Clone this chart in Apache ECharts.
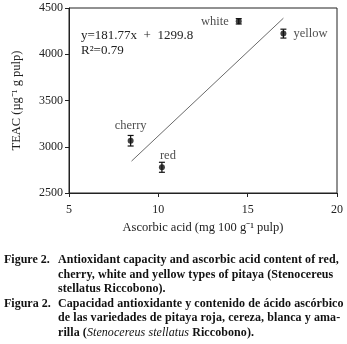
<!DOCTYPE html>
<html>
<head>
<meta charset="utf-8">
<script src="https://cdn.jsdelivr.net/npm/echarts@6/dist/echarts.min.js"></script>
<style>
  html, body { margin: 0; padding: 0; background: #fff; }
  #wrap { position: relative; width: 347px; height: 344px; overflow: hidden; }
  #chart { position: absolute; left: 0; top: 0; width: 347px; height: 344px; }
  .cap { position: absolute; left: 4px; font-family: "Liberation Serif", serif; font-weight: bold;
         font-size: 12px; line-height: 14.6px; color: #111; }
  .cap .lab { position: absolute; left: 0; white-space: nowrap; }
  .cap .txt { position: absolute; left: 54px; white-space: nowrap; letter-spacing: 0.08px; }
</style>
</head>
<body>
<div id="wrap">
  <div id="chart"></div>
  <div class="cap" style="top:252px">
    <div class="lab" style="top:0">Figure 2.</div>
    <div class="txt" style="top:0">Antioxidant capacity and ascorbic acid content of red,</div>
    <div class="txt" style="top:14.6px">cherry, white and yellow types of pitaya (Stenocereus</div>
    <div class="txt" style="top:29.2px">stellatus Riccobono).</div>
    <div class="lab" style="top:43.8px">Figura 2.</div>
    <div class="txt" style="top:43.8px">Capacidad antioxidante y contenido de ácido ascórbico</div>
    <div class="txt" style="top:58.4px">de las variedades de pitaya roja, cereza, blanca y ama-</div>
    <div class="txt" style="top:73px">rilla (<i style="font-weight:normal">Stenocereus stellatus</i> Riccobono).</div>
  </div>
</div>
<script>
const types = ['red', 'cherry', 'white', 'yellow']
const ascorbic = [10.2, 8.45, 14.5, 17.0]
const teac = [2778, 3065, 4356, 4223]
const teacErr = [54, 57, 29, 48]

const slope = 181.77
const intercept = 1299.8
const fitRange = [8.5, 17.0]
const xTicks = [5, 10, 15, 20]
const yTicks = [2500, 3000, 3500, 4000, 4500]

const font = '"Liberation Serif", serif'
// label placement per point, kept apart from the data
const labelStyle = {
  red: { position: 'top', distance: 2, offset: [6, 0] },
  cherry: { position: 'top', distance: 6 },
  white: { position: 'left', distance: 7 },
  yellow: { position: 'right', distance: 7 },
}

const chart = echarts.init(document.getElementById('chart'))

const points = types.map((t, i) => ({
  name: t,
  value: [ascorbic[i], teac[i]],
  label: Object.assign({ show: true, formatter: t }, labelStyle[t]),
}))

chart.setOption({
  animation: false,
  grid: { left: 69, right: 10, top: 8, bottom: 151, show: true, borderColor: '#222', borderWidth: 1 },
  xAxis: {
    type: 'value', min: xTicks[0], max: xTicks[xTicks.length - 1], interval: 5,
    name: 'Ascorbic acid (mg 100 g⁻¹ pulp)', nameLocation: 'middle', nameGap: 28,
    nameTextStyle: { fontFamily: font, fontSize: 12.5, color: '#222' },
    axisLine: { lineStyle: { color: '#222' } },
    axisTick: { length: 4, lineStyle: { color: '#222' } },
    axisLabel: { fontFamily: font, fontSize: 12, color: '#222', margin: 11 },
    splitLine: { show: false },
  },
  yAxis: {
    type: 'value', min: yTicks[0], max: yTicks[yTicks.length - 1], interval: 500,
    name: 'TEAC (µg⁻¹ g pulp)', nameLocation: 'middle', nameGap: 46,
    nameTextStyle: { fontFamily: font, fontSize: 12.5, color: '#222' },
    axisLine: { lineStyle: { color: '#222' } },
    axisTick: { length: 4, lineStyle: { color: '#222' } },
    axisLabel: { fontFamily: font, fontSize: 12, color: '#222', margin: 6, formatter: v => String(v) },
    splitLine: { show: false },
  },
  graphic: [
    {
      type: 'text', left: 81, top: 28,
      style: { text: 'y=181.77x  +  1299.8\nR²=0.79', font: '13px ' + font, fill: '#222', lineHeight: 15 },
    },
  ],
  series: [
    {
      type: 'line',
      data: fitRange.map(x => [x, slope * x + intercept]),
      symbol: 'none',
      lineStyle: { color: '#444', width: 0.8 },
      z: 1,
    },
    {
      type: 'custom',
      data: types.map((t, i) => [ascorbic[i], teac[i] - teacErr[i], teac[i] + teacErr[i]]),
      renderItem: (params, api) => {
        const lo = api.coord([api.value(0), api.value(1)])
        const hi = api.coord([api.value(0), api.value(2)])
        const w = 3
        const st = { stroke: '#111', lineWidth: 1.2 }
        return {
          type: 'group',
          children: [
            { type: 'line', shape: { x1: lo[0], y1: lo[1], x2: hi[0], y2: hi[1] }, style: st },
            { type: 'line', shape: { x1: lo[0] - w, y1: lo[1], x2: lo[0] + w, y2: lo[1] }, style: st },
            { type: 'line', shape: { x1: hi[0] - w, y1: hi[1], x2: hi[0] + w, y2: hi[1] }, style: st },
          ],
        }
      },
      z: 2,
    },
    {
      type: 'scatter',
      data: points,
      symbol: 'circle',
      symbolSize: 6,
      itemStyle: { color: '#111' },
      label: { fontFamily: font, fontSize: 12.5, color: '#222' },
      z: 3,
    },
  ],
})
</script>
</body>
</html>
